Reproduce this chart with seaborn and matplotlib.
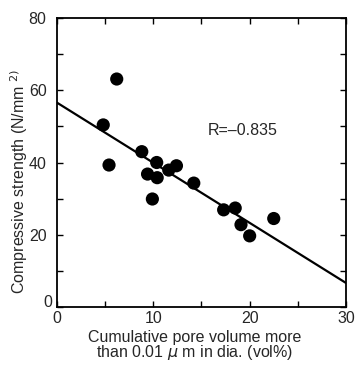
import matplotlib
matplotlib.use("Agg")
import matplotlib.pyplot as plt
from matplotlib.ticker import MultipleLocator
from matplotlib.transforms import ScaledTranslation
import numpy as np
import pandas as pd
import seaborn as sns

# pore volume (vol%) vs compressive strength (N/mm2)
pore_volume = [4.8, 5.4, 6.2, 8.8, 9.4, 9.9, 10.35, 10.4, 11.6, 12.4,
               14.2, 17.3, 18.5, 19.1, 20.0, 22.5]
strength = [50.4, 39.3, 63.1, 43.0, 36.8, 29.9, 40.0, 35.8, 37.9, 39.1,
            34.3, 26.9, 27.4, 22.8, 19.7, 24.5]
r_text = "R=\u20130.835"

df = pd.DataFrame({"x": pore_volume, "y": strength})

sns.set_style("ticks")
plt.rcParams['font.family'] = ['Liberation Sans', 'DejaVu Sans']

fig = plt.figure(figsize=(3.55, 3.74), dpi=100)
ax = fig.add_axes([0.1606, 0.179, 0.814, 0.773])
ax.set_xlim(0, 30)
ax.set_ylim(0, 80)

sns.regplot(data=df, x="x", y="y", ax=ax, ci=None, truncate=False,
            scatter_kws={"s": 90, "color": "black", "edgecolor": "none", "alpha": 1},
            line_kws={"color": "black", "lw": 1.6})

ax.set_xlim(0, 30)
ax.set_ylim(0, 80)
ax.xaxis.set_major_locator(MultipleLocator(10))
ax.xaxis.set_minor_locator(MultipleLocator(5))
ax.yaxis.set_major_locator(MultipleLocator(20))
ax.yaxis.set_minor_locator(MultipleLocator(10))
ax.tick_params(which="both", direction="in", top=True, right=True,
               length=4, width=1, color="black", labelsize=11.5)
ax.tick_params(axis="x", pad=3)
ax.tick_params(axis="y", pad=7.5)
for s in ax.spines.values():
    s.set_linewidth(1.3)
    s.set_color("black")

ax.text(15.6, 48.8, r_text, fontsize=11.5, va="center", ha="left")
ax.set_xlabel("Cumulative pore volume more\nthan 0.01 $\\mu$ m in dia. (vol%)",
              fontsize=11.5, linespacing=0.85)
ax.set_ylabel("Compressive strength (N/mm $^{2)}$", fontsize=11.5)
ax.xaxis.set_label_coords(0.476, -0.078, transform=ax.transAxes)
ax.yaxis.set_label_coords(-0.094, 0.433, transform=ax.transAxes)
ax.xaxis.label.set_va("top")

# nudge the y "0" up and right so it clears the x "0"
fig.canvas.draw()
for t in ax.yaxis.get_major_ticks():
    if abs(t.get_loc()) < 1e-9:
        lab = t.label1
        lab.set_transform(lab.get_transform() + ScaledTranslation(4 / 72, 4 / 72, fig.dpi_scale_trans))

fig.savefig("out.png", dpi=100)
